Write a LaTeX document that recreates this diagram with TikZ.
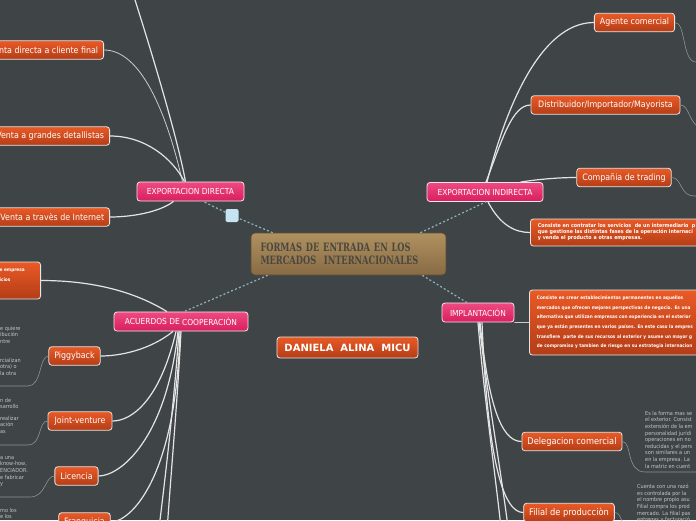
\documentclass[tikz,border=0pt]{standalone}
\usepackage{fontspec}
\setmainfont{DejaVu Sans Condensed}
\newfontfamily\titlefont[FakeStretch=0.8]{DejaVu Serif Condensed}
\newfontfamily\namefont{DejaVu Sans}
\usetikzlibrary{positioning}
\definecolor{board}{HTML}{3F4547}
\definecolor{rosetop}{HTML}{EE4A82}
\definecolor{rosebot}{HTML}{D81E5E}
\definecolor{orangetop}{HTML}{E95A26}
\definecolor{orangebot}{HTML}{B43D17}
\definecolor{tantop}{HTML}{B0915F}
\definecolor{tanbot}{HTML}{876B45}
\definecolor{titleink}{HTML}{4A4740}
\definecolor{dotline}{HTML}{8CB2C2}
\definecolor{pin}{HTML}{C4E5F0}
\definecolor{wire}{HTML}{E4E4E4}
\definecolor{notewire}{HTML}{8E9394}
\definecolor{noteink}{HTML}{C2C4C4}

\begin{document}
\begin{tikzpicture}[x=1pt,y=-1pt,
  main/.style={draw=tanbot!70!black,line width=0.6pt,rounded corners=4pt,
               top color=tantop,bottom color=tanbot,minimum width=195pt,minimum height=42pt,
               text width=176pt,align=left,text=titleink,
               font=\titlefont\bfseries\fontsize{11.5}{13}\selectfont},
  topic/.style={draw=white!85!rosetop,line width=0.8pt,rounded corners=3pt,
                top color=rosetop,bottom color=rosebot,text=white,
                font=\fontsize{8.3}{10}\selectfont,minimum height=19pt,inner xsep=5pt},
  sub/.style={draw=white!80!gray,line width=0.8pt,rounded corners=3pt,
              top color=orangetop,bottom color=orangebot,text=white,
              font=\fontsize{8.8}{10}\selectfont,minimum height=18.5pt,inner xsep=5.5pt},
  desc/.style={sub,align=left,inner xsep=5pt},
  note/.style={text=noteink,align=left,font=\fontsize{5.5}{6.6}\selectfont,inner sep=0pt},
  branch/.style={draw=wire,line width=1.2pt},
  twig/.style={draw=wire!85!board,line width=0.8pt},
  link/.style={draw=dotline,line width=1.2pt,dash pattern=on 2pt off 2.2pt},
  notelink/.style={draw=notewire,line width=0.6pt},
]
  \useasboundingbox (0,0) rectangle (696,520);
  \fill[board] (0,0) rectangle (696,520);
  \clip (0,0) rectangle (696,520);

  % centre and main topics
  \node[main] (centro) at (348.5,254) {FORMAS DE ENTRADA EN LOS\\MERCADOS\ \ INTERNACIONALES};
  \node[sub,font=\namefont\bfseries\fontsize{10}{12}\selectfont,minimum width=141pt,minimum height=21pt]
    (autora) at (347.5,347.5) {DANIELA\ \ ALINA\ \ MICU};
  \node[topic,minimum width=107pt] (directa) at (190.5,191.5) {EXPORTACION DIRECTA};
  \node[topic,minimum width=116pt] (indirecta) at (485,192) {EXPORTACION INDIRECTA};
  \node[topic,minimum width=134pt] (acuerdos) at (181,321.5) {ACUERDOS DE \raisebox{-1pt}{COOPERACIÒN}};
  \node[topic,minimum width=72pt] (implanta) at (478,312.5) {IMPLANTACIÓN};
  \node[fill=pin,rounded corners=2pt,minimum size=13pt,inner sep=0pt] (pin) at (232,215.5) {};

  % exportacion directa
  \node[sub,anchor=east] (ventaDirecta) at (104,50) {Venta directa a cliente final};
  \node[sub,anchor=east] (ventaGrandes) at (110,136) {Venta a grandes detallistas};
  \node[sub,anchor=east] (ventaInternet) at (110,217) {Venta a travès de Internet};
  \coordinate (directaOff) at (122,-40);

  % exportacion indirecta
  \node[sub,minimum width=79pt] (agente) at (634.5,22.5) {Agente comercial};
  \node[sub,minimum width=149pt] (distrib) at (605.5,105) {Distribuidor/Importador/Mayorista};
  \node[sub,minimum width=94pt] (trading) at (624,177.5) {Compañia de trading};
  \node[desc,anchor=west,minimum height=27pt,minimum width=200pt,text width=185pt,
        font=\fontsize{5.3}{6}\selectfont\bfseries] (indDesc) at (530,232.5)
    {Consiste en contratar los servicios\ \ de un intermediario\ \ p\\
     que gestione las distintas fases de la operación internaci\\
     y venda el producto a otras empresas.};

  % acuerdos de cooperacion
  \node[desc,anchor=east,text width=38pt,inner xsep=3pt,minimum height=37pt,
        font=\fontsize{4.7}{10}\selectfont\bfseries] (coopBox) at (41,280.5)
    {e empresa\\icios\\\mbox{}};
  \node[sub,minimum width=51pt] (piggy) at (74.5,356) {Piggyback};
  \node[sub,minimum width=64pt] (joint) at (80,421) {Joint-venture};
  \node[sub,minimum width=43pt] (licencia) at (76.5,476) {Licencia};
  \node[sub,minimum width=51pt] (franquicia) at (84.5,522) {Franquicia};
  \coordinate (acuerdosOffA) at (150,600);
  \coordinate (acuerdosOffB) at (162,620);

  \node[note,anchor=north west] (piggyNoteA) at (0,326) {e quiere\\ibución\\ntre};
  \node[note,anchor=north west] (piggyNoteB) at (0,358) {rcializan\\otra) o\\la otra};
  \node[note,anchor=north west] (jointNoteA) at (0,398) {n de\\sarrollo};
  \node[note,anchor=north west] (jointNoteB) at (0,416) {realizar\\ación\\as};
  \node[note,anchor=north west] (licNote) at (0,456) {a una\\know-how,\\ENCIADOR.\\e fabricar\\y};
  \node[note,anchor=north west] (franqNote) at (0,508) {mo los\\e los};

  % implantacion
  \node[desc,anchor=west,minimum height=65pt,minimum width=200pt,text width=185pt,
        font=\fontsize{4.7}{9.6}\selectfont\bfseries] (impDesc) at (529,322.5)
    {Consiste en crear establecimientos permanentes en aquellos\\
     mercados que ofrecen mejores perspectivas de negocio. Es una\\
     alternativa que utilizan empresas con experiencia en el exterior\\
     que ya están presentes en varios países. En este caso la empres\\
     transfiere\ \ parte de sus recursos al exterior y asume un mayor g\\
     de compromiso y tambien de riesgo en su estrategia internacion};
  \node[sub,font=\fontsize{9.2}{10}\selectfont,minimum width=96pt] (delegacion) at (572,441.5) {Delegacion comercial};
  \node[sub,font=\fontsize{9.2}{10}\selectfont,minimum width=88pt] (filial) at (569,512.5) {Filial de producciòn};
  \coordinate (implantaOffA) at (508,600);
  \coordinate (implantaOffB) at (518,620);

  \node[note,anchor=north west] (delegNote) at (645,411)
    {Es la forma mas se\\el exterior. Consist\\extensión de la em\\personalidad jurídi\\operaciones en no\\
     reducidas y el pers\\son similares a un\\en la empresa. La\\la matriz en cuent};
  \node[note,anchor=north west] (filialNote) at (637,484)
    {Cuenta con una razó\\es controlada por la\\el nombre propio asu\\Filial compra los prod\\
     mercado. La filial pas\\entregas y facturació};

  % dotted links from the centre
  \draw[link] ([xshift=22pt]centro.north west) -- (pin);
  \draw[link] (pin) -- ([xshift=12.5pt]directa.south);
  \draw[link] ([xshift=-26pt]centro.north east) -- ([xshift=1pt]indirecta.south);
  \draw[link] ([xshift=17pt]centro.south west) -- ([xshift=3pt]acuerdos.north);
  \draw[link] ([xshift=-24pt]centro.south east) -- ([xshift=-11pt]implanta.north);

  % branches
  \draw[branch] ([xshift=-5pt]directa.north) .. controls (176,130) and (142,20) .. (directaOff);
  \draw[twig] ([xshift=-8pt]directa.north) .. controls (166,110) and (140,50) .. (ventaDirecta.east);
  \draw[branch] ([xshift=-6pt]directa.north) .. controls (172,158) and (145,136) .. (ventaGrandes.east);
  \draw[branch] ([xshift=-17pt]directa.south) .. controls (160,212) and (132,217) .. (ventaInternet.east);

  \draw[branch] ([xshift=2pt]indirecta.north) .. controls (505,110) and (540,22.5) .. (agente.west);
  \draw[branch] ([xshift=1pt]indirecta.north) .. controls (502,140) and (512,105) .. (distrib.west);
  \draw[branch] ([xshift=-23pt]indirecta.north east) .. controls (540,179) and (560,177.5) .. (trading.west);
  \draw[branch] ([xshift=3pt]indirecta.south) .. controls (500,225) and (515,232.5) .. (indDesc.west);

  \draw[branch] ([xshift=-14pt]acuerdos.north) .. controls (140,295) and (100,280.5) .. (coopBox.east);
  \draw[branch] ([xshift=-8pt]acuerdos.south) .. controls (150,350) and (120,356) .. (piggy.east);
  \draw[branch] ([xshift=-5pt]acuerdos.south) .. controls (160,400) and (132,421) .. (joint.east);
  \draw[branch] ([xshift=-3pt]acuerdos.south) .. controls (166,440) and (120,476) .. (licencia.east);
  \draw[branch] ([xshift=-1pt]acuerdos.south) .. controls (176,480) and (130,522) .. (franquicia.east);
  \draw[branch] ([xshift=-2pt]acuerdos.south) .. controls (172,430) and (160,520) .. (acuerdosOffA);
  \draw[branch] (acuerdos.south) .. controls (176,430) and (166,520) .. (acuerdosOffB);

  \draw[twig] (implanta.south east) -- (impDesc.west);
  \draw[branch] ([xshift=2pt]implanta.south) .. controls (488,400) and (500,441.5) .. (delegacion.west);
  \draw[branch] ([xshift=4pt]implanta.south) .. controls (488,470) and (505,512.5) .. (filial.west);
  \draw[branch] ([xshift=0pt]implanta.south) .. controls (486,420) and (500,500) .. (implantaOffA);
  \draw[branch] ([xshift=1pt]implanta.south) .. controls (490,420) and (508,500) .. (implantaOffB);

  % note brackets
  \coordinate (agenteEnd) at (710,62);
  \coordinate (distribEnd) at (704,130);
  \coordinate (tradingEnd) at (710,196);
  \coordinate (delegEnd) at (710,472);
  \coordinate (filialEnd) at (632,532);
  \coordinate (piggyEnd) at (-10,386);
  \coordinate (jointEnd) at (-10,445);
  \coordinate (licEnd) at (-10,497);
  \draw[notelink] (agente.east) .. controls (686,22.5) and (682,62) .. (696,62) -- (agenteEnd);
  \draw[notelink] (distrib.east) .. controls (690,105) and (688,125) .. (distribEnd);
  \draw[notelink] (trading.east) .. controls (682,177.5) and (680,196) .. (694,196) -- (tradingEnd);
  \draw[notelink] (delegacion.east) .. controls (632,441.5) and (626,472) .. (645,472) -- (delegEnd);
  \draw[notelink] (filial.east) .. controls (622,512.5) and (620,526) .. (filialEnd);
  \draw[notelink] (piggy.west) .. controls (39,356) and (42,386) .. (28,386) -- (piggyEnd);
  \draw[notelink] (joint.west) .. controls (38,421) and (42,445) .. (28,445) -- (jointEnd);
  \draw[notelink] (licencia.west) .. controls (45,476) and (46,497) .. (30,497) -- (licEnd);
\end{tikzpicture}
\end{document}
